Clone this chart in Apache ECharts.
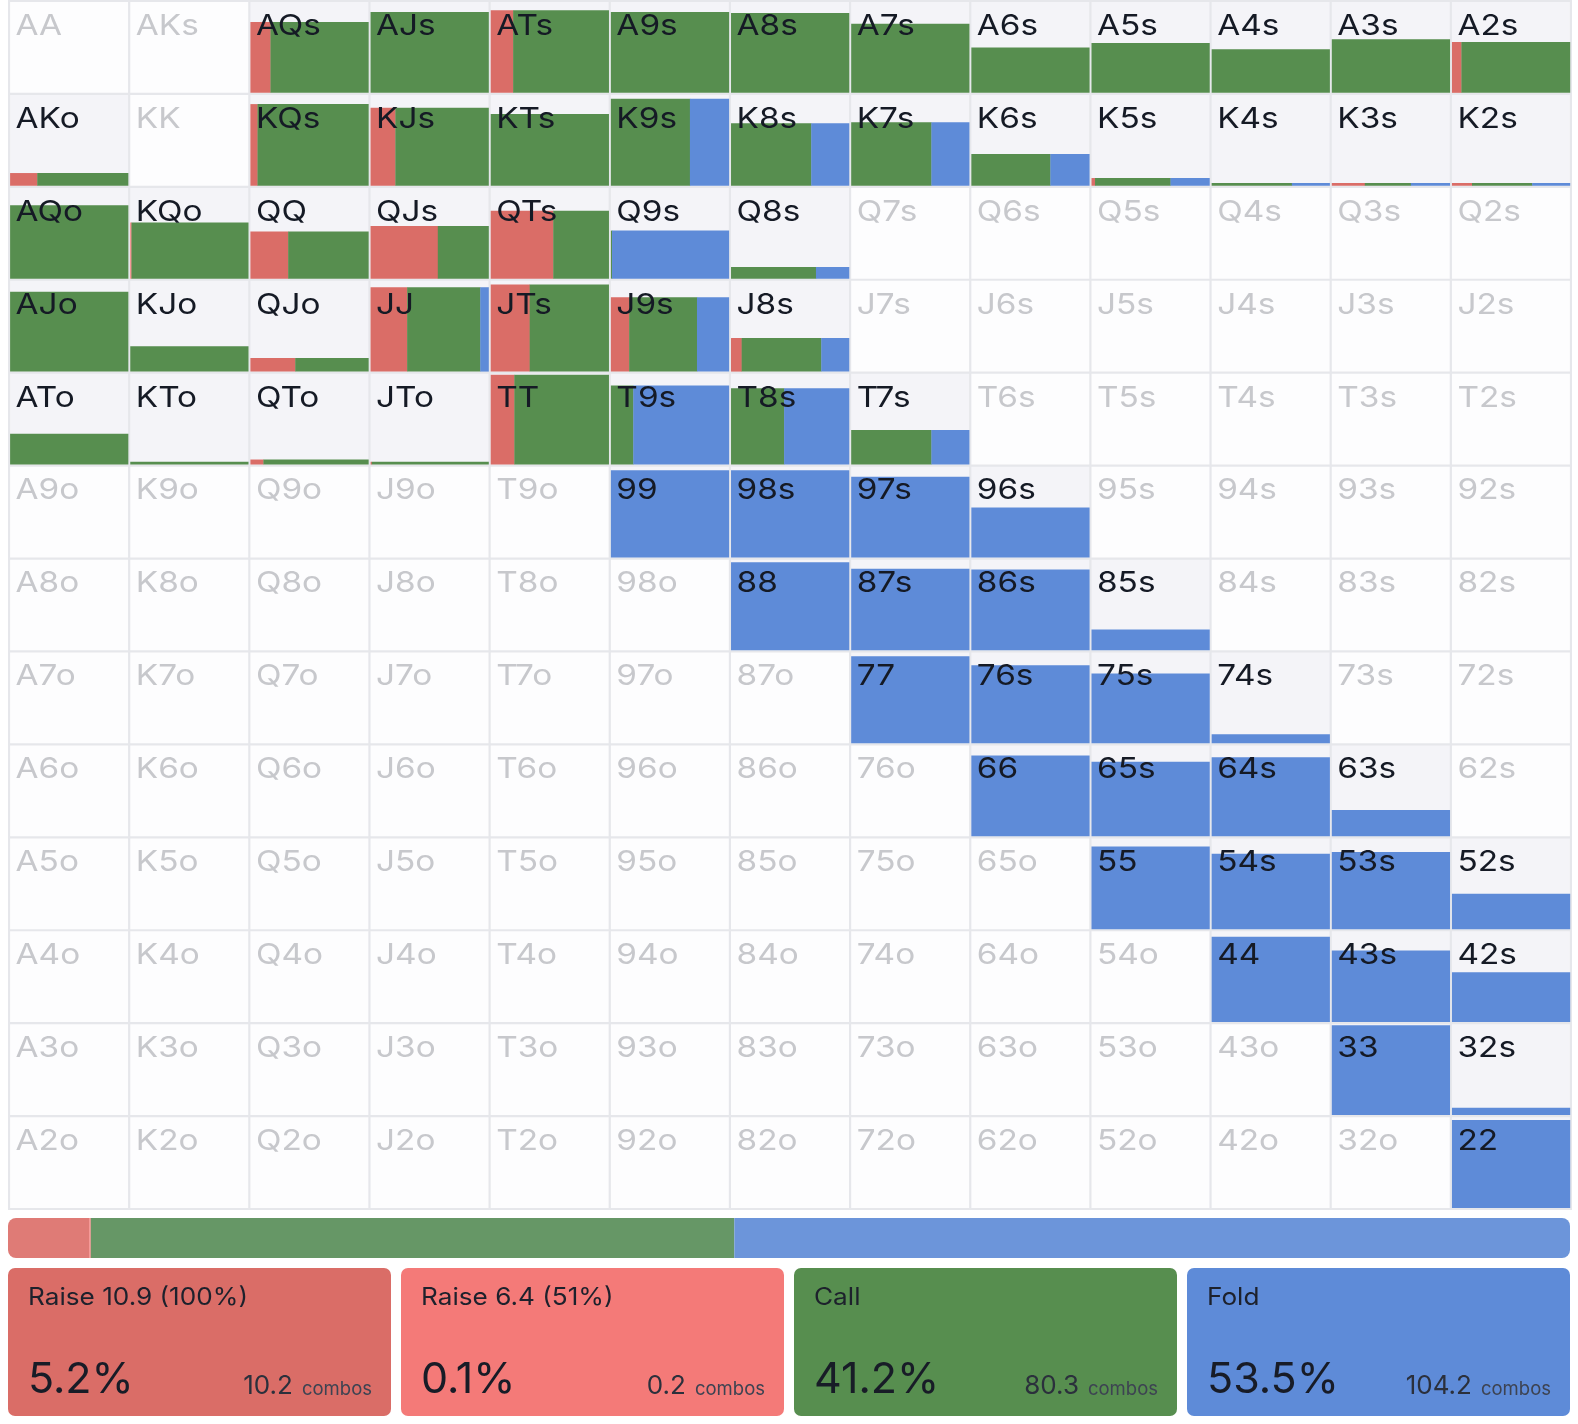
<!DOCTYPE html>
<html>
<head>
<meta charset="utf-8">
<title>Range</title>
<script src="https://cdn.jsdelivr.net/npm/echarts@6/dist/echarts.min.js"></script>
<style>
html, body { margin: 0; padding: 0; background: #fff; }
#chart { width: 1578px; height: 1424px; }
</style>
</head>
<body>
<div id="chart"></div>
<script>
// ranks for rows / columns of the grid
const ranks = ['A', 'K', 'Q', 'J', 'T', '9', '8', '7', '6', '5', '4', '3', '2'];

// hands that are in the range, with height of the bar (share of the hand in range)
const rangeHands = [
  'AQs', 'AJs', 'ATs', 'A9s', 'A8s', 'A7s', 'A6s', 'A5s', 'A4s', 'A3s', 'A2s',
  'AKo', 'KQs', 'KJs', 'KTs', 'K9s', 'K8s', 'K7s', 'K6s', 'K5s', 'K4s', 'K3s', 'K2s',
  'AQo', 'KQo', 'QQ', 'QJs', 'QTs', 'Q9s', 'Q8s',
  'AJo', 'KJo', 'QJo', 'JJ', 'JTs', 'J9s', 'J8s',
  'ATo', 'KTo', 'QTo', 'JTo', 'TT', 'T9s', 'T8s', 'T7s',
  '99', '98s', '97s', '96s',
  '88', '87s', '86s', '85s',
  '77', '76s', '75s', '74s',
  '66', '65s', '64s', '63s',
  '55', '54s', '53s', '52s',
  '44', '43s', '42s',
  '33', '32s',
  '22'
];
const handWeight = [
  0.78, 0.89, 0.91, 0.89, 0.88, 0.76, 0.50, 0.55, 0.48, 0.59, 0.56,
  0.14, 0.90, 0.86, 0.79, 0.96, 0.69, 0.70, 0.35, 0.085, 0.03, 0.03, 0.03,
  0.81, 0.62, 0.52, 0.58, 0.75, 0.53, 0.13,
  0.88, 0.28, 0.15, 0.93, 0.96, 0.82, 0.37,
  0.34, 0.03, 0.055, 0.03, 0.99, 0.87, 0.84, 0.38,
  0.96, 0.96, 0.89, 0.55,
  0.97, 0.90, 0.89, 0.23,
  0.96, 0.86, 0.77, 0.10,
  0.89, 0.82, 0.87, 0.29,
  0.91, 0.83, 0.85, 0.39,
  0.94, 0.79, 0.55,
  0.99, 0.08,
  0.97
];
// action split inside each hand (fractions of the bar width)
const raiseBig = [
  0.17, 0, 0.19, 0, 0, 0, 0, 0, 0, 0, 0.08,
  0.23, 0.06, 0.21, 0, 0, 0, 0, 0, 0.03, 0, 0.28, 0.17,
  0, 0, 0.32, 0.57, 0.53, 0, 0,
  0, 0, 0.38, 0.31, 0.33, 0.155, 0.09,
  0, 0, 0.11, 0.01, 0.20, 0, 0, 0,
  0, 0, 0, 0,
  0, 0, 0, 0,
  0, 0, 0, 0,
  0, 0, 0, 0,
  0, 0, 0, 0,
  0, 0, 0,
  0, 0,
  0
];
const raiseSmall = [
  0, 0, 0, 0, 0, 0, 0, 0, 0, 0, 0,
  0, 0, 0, 0, 0, 0, 0, 0, 0, 0, 0, 0,
  0, 0.01, 0, 0, 0, 0, 0,
  0, 0, 0, 0, 0, 0, 0,
  0, 0, 0, 0, 0, 0, 0, 0,
  0, 0, 0, 0,
  0, 0, 0, 0,
  0, 0, 0, 0,
  0, 0, 0, 0,
  0, 0, 0, 0,
  0, 0, 0,
  0, 0,
  0
];
const callFreq = [
  0.83, 1, 0.81, 1, 1, 1, 1, 1, 1, 1, 0.92,
  0.77, 0.94, 0.79, 1, 0.67, 0.68, 0.68, 0.67, 0.64, 0.68, 0.39, 0.51,
  1, 0.99, 0.68, 0.43, 0.47, 0.01, 0.72,
  1, 1, 0.62, 0.62, 0.67, 0.575, 0.675,
  1, 1, 0.89, 0.99, 0.80, 0.19, 0.45, 0.68,
  0, 0, 0, 0,
  0, 0, 0, 0,
  0, 0, 0, 0,
  0, 0, 0, 0,
  0, 0, 0, 0,
  0, 0, 0,
  0, 0,
  0
];
const foldFreq = [
  0, 0, 0, 0, 0, 0, 0, 0, 0, 0, 0,
  0, 0, 0, 0, 0.33, 0.32, 0.32, 0.33, 0.33, 0.32, 0.33, 0.32,
  0, 0, 0, 0, 0, 0.99, 0.28,
  0, 0, 0, 0.07, 0, 0.27, 0.235,
  0, 0, 0, 0, 0, 0.81, 0.55, 0.32,
  1, 1, 1, 1,
  1, 1, 1, 1,
  1, 1, 1, 1,
  1, 1, 1, 1,
  1, 1, 1, 1,
  1, 1, 1,
  1, 1,
  1
];

// summary of actions
const actionNames = ['Raise 10.9 (100%)', 'Raise 6.4 (51%)', 'Call', 'Fold'];
const actionPct = [5.2, 0.1, 41.2, 53.5];
const actionCombos = [10.2, 0.2, 80.3, 104.2];

const actionColors = ['#DA6D67', '#F47A78', '#578E4F', '#5E8BD8'];
const totalColors = ['#DF7B76', '#F58684', '#669766', '#6C95DA'];
const FONT = 'Inter, "Noto Sans", sans-serif';

// build the 13x13 cells
const cellLabels = [];
const cellData = [];
for (let r = 0; r < 13; r++) {
  for (let c = 0; c < 13; c++) {
    let label;
    if (r === c) label = ranks[r] + ranks[c];
    else if (c > r) label = ranks[r] + ranks[c] + 's';
    else label = ranks[c] + ranks[r] + 'o';
    cellLabels.push(label);
    cellData.push([c, r, rangeHands.indexOf(label)]);
  }
}

const measureCtx = document.createElement('canvas').getContext('2d');

function renderCell(params, api) {
  const center = api.coord([api.value(0), api.value(1)]);
  const size = api.size([1, 1]);
  const gap = 1.1;
  const x = center[0] - size[0] / 2 + gap;
  const y = center[1] - size[1] / 2 + gap;
  const w = size[0] - gap * 2;
  const h = size[1] - gap * 2;
  const k = api.value(2);
  const children = [{
    type: 'rect',
    shape: { x: x, y: y, width: w, height: h },
    style: { fill: k >= 0 ? '#F4F4F8' : '#FDFDFE' }
  }];
  if (k >= 0) {
    const bh = h * handWeight[k];
    let xx = x;
    [raiseBig, raiseSmall, callFreq, foldFreq].forEach(function (arr, j) {
      const sw = w * arr[k];
      if (sw > 0) {
        children.push({
          type: 'rect',
          shape: { x: xx, y: y + h - bh, width: sw + 0.3, height: bh },
          style: { fill: actionColors[j] }
        });
      }
      xx += sw;
    });
  }
  children.push({
    type: 'text',
    x: x + 5.5,
    y: y + 24,
    scaleX: 1.15,
    style: {
      text: cellLabels[params.dataIndex],
      font: '400 29px ' + FONT,
      verticalAlign: 'middle',
      fill: k >= 0 ? '#151A25' : '#C7C8CC'
    }
  });
  return { type: 'group', children: children };
}

function renderBox(params, api) {
  const i = api.value(0);
  const top = api.coord([i, 1]);
  const bottom = api.coord([i, 0]);
  const w = 383;
  const x = top[0] - w / 2;
  const y = top[1];
  const h = bottom[1] - top[1];
  const unitFont = '400 18.5px ' + FONT;
  measureCtx.font = unitFont;
  const unitW = measureCtx.measureText('combos').width;
  return {
    type: 'group',
    children: [
      { type: 'rect', shape: { x: x, y: y, width: w, height: h, r: 7 }, style: { fill: actionColors[i] } },
      { type: 'text', x: x + 20, y: y + 30, scaleX: 1.09,
        style: { text: actionNames[i], font: '400 24px ' + FONT, verticalAlign: 'middle', fill: '#1D212C' } },
      { type: 'text', x: x + 20, y: y + 112,
        style: { text: actionPct[i].toFixed(1) + '%', font: '400 43px ' + FONT, verticalAlign: 'middle', fill: '#181C27' } },
      { type: 'text', x: x + w - 19, y: y + 121.3,
        style: { text: 'combos', font: unitFont, align: 'right', verticalAlign: 'middle', fill: '#3D4352' } },
      { type: 'text', x: x + w - 19 - unitW - 9, y: y + 118.4,
        style: { text: actionCombos[i].toFixed(1), font: '400 26px ' + FONT, align: 'right', verticalAlign: 'middle', fill: '#2B303C' } }
    ]
  };
}

const chart = echarts.init(document.getElementById('chart'), null, { renderer: 'canvas' });

const totalSeries = actionPct.map(function (v, j) {
  let radius = 0;
  if (j === 0) radius = [8, 0, 0, 8];
  if (j === actionPct.length - 1) radius = [0, 8, 8, 0];
  return {
    name: actionNames[j],
    type: 'bar',
    xAxisIndex: 1,
    yAxisIndex: 1,
    stack: 'total',
    barWidth: '100%',
    silent: true,
    data: [v],
    itemStyle: { color: totalColors[j], borderRadius: radius }
  };
});

chart.setOption({
  animation: false,
  backgroundColor: '#ffffff',
  grid: [
    { left: 9, top: 1, width: 1562, height: 1208, show: true,
      backgroundColor: '#E6E7EB', borderColor: '#E6E7EB', borderWidth: 2 },
    { left: 8, top: 1218, width: 1562, height: 40 },
    { left: 3, top: 1268, width: 1572, height: 148 }
  ],
  xAxis: [
    { gridIndex: 0, type: 'category', data: ranks, show: false },
    { gridIndex: 1, type: 'value', min: 0, max: 100, show: false },
    { gridIndex: 2, type: 'category', data: actionNames, show: false }
  ],
  yAxis: [
    { gridIndex: 0, type: 'category', data: ranks, inverse: true, show: false },
    { gridIndex: 1, type: 'category', data: ['total'], show: false },
    { gridIndex: 2, type: 'value', min: 0, max: 1, show: false }
  ],
  series: [
    {
      type: 'custom',
      xAxisIndex: 0,
      yAxisIndex: 0,
      silent: true,
      renderItem: renderCell,
      data: cellData
    }
  ].concat(totalSeries, [
    {
      type: 'custom',
      xAxisIndex: 2,
      yAxisIndex: 2,
      silent: true,
      renderItem: renderBox,
      data: actionPct.map(function (v, i) { return [i, 1]; })
    }
  ])
});
</script>
</body>
</html>
